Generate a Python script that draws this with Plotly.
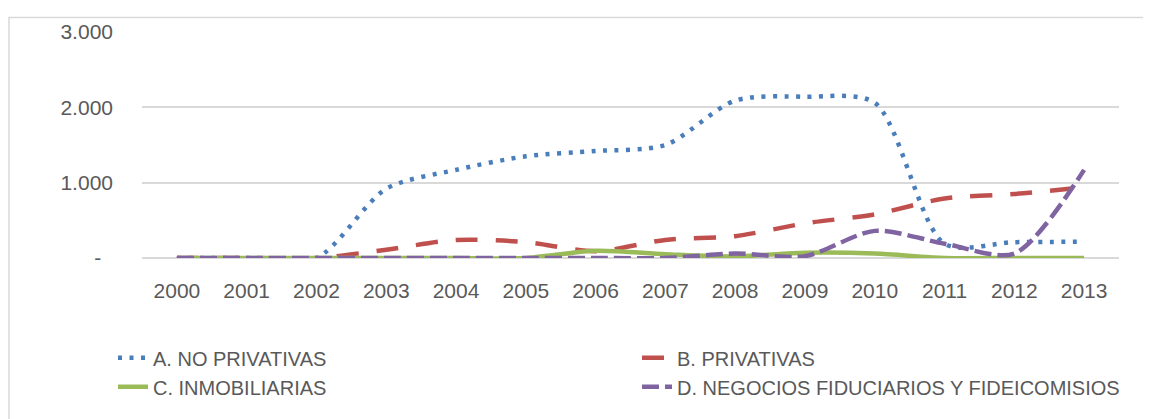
import plotly.graph_objects as go

years = [str(y) for y in range(2000, 2014)]
no_privativas = [0, 0, 0, 920, 1170, 1350, 1420, 1500, 2090, 2140, 2060, 190, 210, 215]
privativas = [0, 0, 0, 110, 240, 210, 90, 240, 290, 460, 580, 790, 850, 940]
inmobiliarias = [0, 0, 0, 0, 0, 0, 95, 50, 20, 70, 60, 0, 0, 0]
negocios = [0, 0, 0, 0, 0, 0, 0, 0, 60, 25, 360, 190, 60, 1170]

names = ["A. NO PRIVATIVAS", "B. PRIVATIVAS", "C. INMOBILIARIAS",
         "D. NEGOCIOS FIDUCIARIOS Y FIDEICOMISIOS"]
ytick_vals = [0, 1000, 2000, 3000]
ytick_text = ["-\u00a0\u00a0", "1.000", "2.000", "3.000"]

styles = [
    dict(color="#4a7ebb", width=4.5, dash="4px,7.5px"),
    dict(color="#c0504d", width=4.5, dash="22px,18px"),
    dict(color="#9bbb59", width=4.5, dash="solid"),
    dict(color="#8064a2", width=4.5, dash="17px,6px"),
]
legend_ids = ["legend", "legend2", "legend", "legend2"]
series = [no_privativas, privativas, inmobiliarias, negocios]

fig = go.Figure()
for name, vals, st, lg in zip(names, series, styles, legend_ids):
    fig.add_trace(go.Scatter(
        x=years, y=vals, name=name, mode="lines", legend=lg,
        line=dict(shape="spline", smoothing=0.8, **st),
    ))

# page body has an 8px margin; figure sized/offset accordingly
W, H = 1143, 411
ML, MR, MT, MB = 134, 32, 16, 161
PW = W - ML - MR
PH = H - MT - MB

legend_common = dict(
    orientation="v", y=-0.355, yanchor="top", xanchor="left", traceorder="normal",
    font=dict(family="Liberation Sans, Arial, sans-serif", size=20, color="#595959"),
    bgcolor="rgba(0,0,0,0)", tracegroupgap=0,
)

fig.update_layout(
    width=W, height=H,
    margin=dict(l=ML, r=MR, t=MT, b=MB),
    paper_bgcolor="white", plot_bgcolor="white",
    font=dict(family="Liberation Sans, Arial, sans-serif", size=21, color="#595959"),
    showlegend=True,
    legend=dict(x=(113 - 142) / PW, **legend_common),
    legend2=dict(x=(637 - 142) / PW, **legend_common),
    xaxis=dict(
        type="category", showgrid=False, zeroline=False, showline=False,
        ticks="", ticklabelstandoff=18, range=[-0.5, 13.5],
        tickfont=dict(size=21, color="#595959"),
    ),
    yaxis=dict(
        range=[0, 3000], tickvals=ytick_vals, ticktext=ytick_text,
        showgrid=True, gridcolor="#d9d9d9", gridwidth=1.5,
        zeroline=True, zerolinecolor="#d9d9d9", zerolinewidth=1.5,
        showline=False, ticks="", ticklabelstandoff=28,
        tickfont=dict(size=21, color="#595959"),
    ),
    shapes=[dict(type="rect", xref="paper", yref="paper",
                 x0=(-ML + 1) / PW, x1=1.2, y0=-2, y1=(PH + MT - 1) / PH,
                 line=dict(color="#d9d9d9", width=1.5), fillcolor="rgba(0,0,0,0)",
                 layer="below")],
)

fig.write_html("out.html")
